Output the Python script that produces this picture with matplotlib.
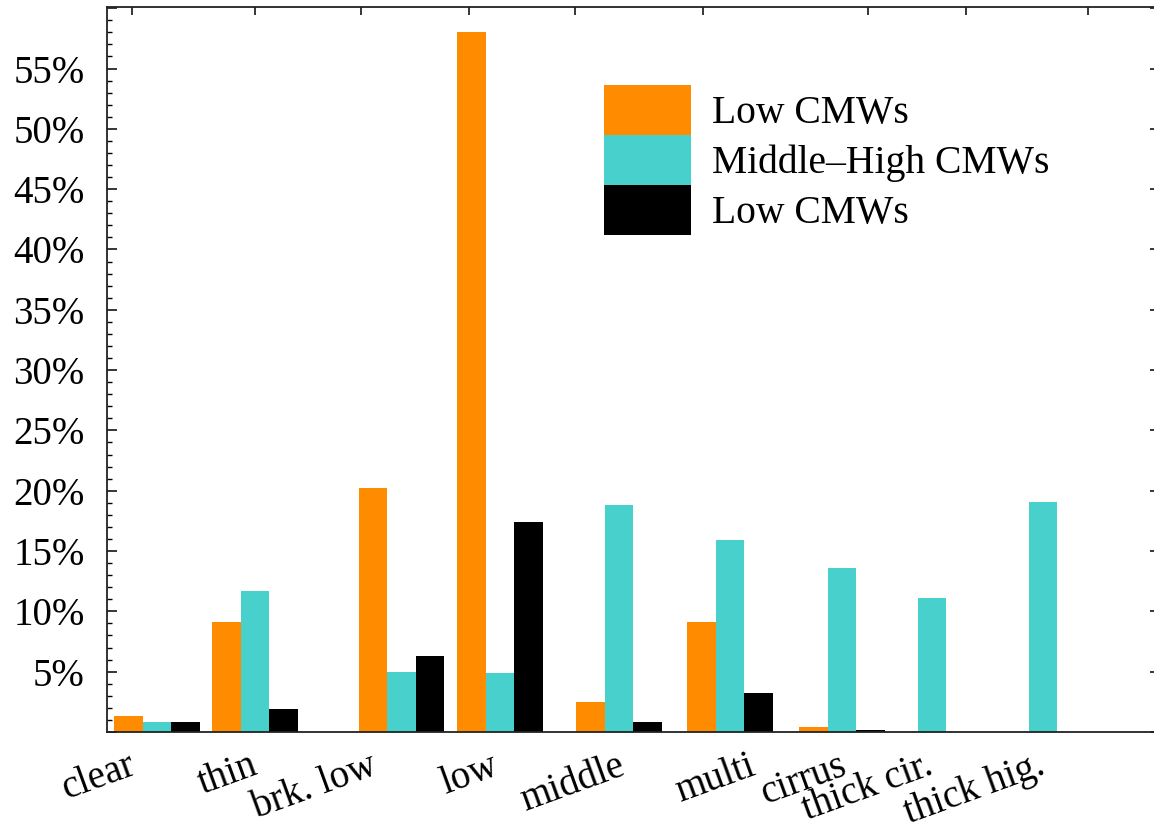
import numpy as np
import matplotlib
matplotlib.use("Agg")
import matplotlib.pyplot as plt
from matplotlib.ticker import MultipleLocator, FuncFormatter

plt.rcParams['font.family'] = ['Liberation Serif', 'DejaVu Serif']

# categories and where they sit along the x axis
categories = ['clear', 'thin', 'brk. low', 'low', 'middle',
              'multi', 'cirrus', 'thick cir.', 'thick hig.']
group_pos = [0.50, 1.48, 2.945, 3.93, 5.12, 6.23, 7.35, 8.25, 9.36]
label_pos = [0.33, 1.56, 2.75, 3.96, 5.23, 6.53, 7.45, 8.31, 9.43]
top_tick_pos = [0.25, 1.48, 2.54, 3.62, 4.68, 5.96, 7.61, 8.59, 9.81]

# percentages
low_cmw = [1.3, 9.1, 20.2, 58.0, 2.5, 9.1, 0.4, 0.0, 0.0]
midhigh_cmw = [0.85, 11.7, 5.0, 4.9, 18.8, 15.9, 13.6, 11.1, 19.1]
low_cmw2 = [0.85, 1.9, 6.3, 17.4, 0.85, 3.2, 0.15, 0.0, 0.0]

labels = ['Low CMWs', 'Middle\u2013High CMWs', 'Low CMWs']
colors = ['#FF8C00', '#48D1CC', '#000000']

fig = plt.figure(figsize=(11.54, 8.32), dpi=100)
ax = fig.add_axes([0.0927, 0.1202, 0.9125, 0.8714])

x = np.array(group_pos)
w = 0.285
series = [low_cmw, midhigh_cmw, low_cmw2]
for k, vals in enumerate(series):
    ax.bar(x + (k - 1) * w, vals, width=w, color=colors[k],
           edgecolor='none', label=labels[k])

ax.set_xlim(0, 10.53)
ax.set_ylim(0, 60.1)

ax.yaxis.set_major_locator(MultipleLocator(5))
ax.yaxis.set_minor_locator(MultipleLocator(1))
ax.yaxis.set_major_formatter(FuncFormatter(lambda v, p: '' if v < 1 or v > 58 else f'{v:.0f}%'))
ax.tick_params(axis='y', which='major', direction='in', length=7, width=1.1,
               left=True, right=True, labelsize=28, pad=16)
ax.tick_params(axis='y', which='minor', direction='in', length=3.5, width=1.0,
               left=True, right=True)

# bottom tick marks are hidden under the bars in the original, only labels shown
ax.set_xticks(label_pos)
ax.set_xticklabels(categories, rotation=20, ha='right')
ax.tick_params(axis='x', which='major', direction='in', length=0,
               labelsize=28, pad=11)

top = ax.secondary_xaxis('top')
top.set_xticks(top_tick_pos)
top.set_xticklabels([])
top.tick_params(direction='in', length=6, width=1.1)
top.spines['top'].set_visible(False)

for s in ax.spines.values():
    s.set_linewidth(1.3)
    s.set_color('#222222')

ax.legend(loc='upper left', bbox_to_anchor=(0.4747 * 1047 / 1053, 0.892), frameon=False,
          fontsize=28.5, handlelength=2.2, handleheight=1.566, labelspacing=0,
          handletextpad=0.53, borderpad=0, borderaxespad=0)

fig.savefig('out.png', dpi=100)
